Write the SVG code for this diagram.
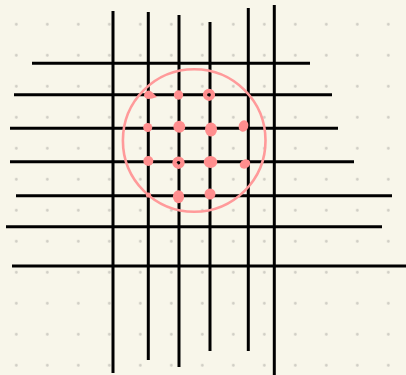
<svg xmlns="http://www.w3.org/2000/svg" width="406" height="375" viewBox="0 0 406 375">
  <defs>
    <pattern id="dots" x="0.8" y="8.8" width="31" height="31" patternUnits="userSpaceOnUse">
      <circle cx="15.5" cy="15.5" r="1.4" fill="#cfcdc4"/>
    </pattern>
  </defs>
  <style>
    .ln { stroke: #000; stroke-width: 3; fill: none; stroke-linecap: butt; }
    .pk { fill: #ff8e8e; }
    .ring { fill: none; stroke: #ff8e8e; }
  </style>
  <rect width="406" height="375" fill="#f8f6ea"/>
  <rect width="406" height="375" fill="url(#dots)"/>
  <g id="horizontal-lines">
    <line class="ln" x1="32" y1="63.3" x2="310" y2="63.3"/>
    <line class="ln" x1="14" y1="94.7" x2="332" y2="94.7"/>
    <line class="ln" x1="10" y1="128.3" x2="338" y2="128.3"/>
    <line class="ln" x1="10" y1="161.7" x2="354" y2="161.7"/>
    <line class="ln" x1="16" y1="195.7" x2="392" y2="195.7"/>
    <line class="ln" x1="6" y1="226.7" x2="382" y2="226.7"/>
    <line class="ln" x1="12" y1="266" x2="406" y2="266"/>
  </g>
  <g id="vertical-lines">
    <line class="ln" x1="113" y1="11" x2="113" y2="373"/>
    <line class="ln" x1="148.3" y1="12" x2="148.3" y2="360"/>
    <line class="ln" x1="179" y1="15" x2="179" y2="367"/>
    <line class="ln" x1="210" y1="22" x2="210" y2="351"/>
    <line class="ln" x1="248.3" y1="8" x2="248.3" y2="351"/>
    <line class="ln" x1="274.3" y1="5" x2="274.3" y2="375"/>
  </g>
  <g id="circle">
    <circle cx="194.2" cy="140.5" r="71.3" fill="none" stroke="#ff9a9a" stroke-width="2.6"/>
  </g>
  <g id="points">
    <path class="pk" d="M145,92 Q149,89 152,92 L157,97 Q152,99 148,99 Q144,98 144,95 Z"/>
    <circle class="pk" cx="178.5" cy="95" r="4.7"/>
    <circle class="ring" cx="209" cy="94.8" r="4" stroke-width="4.2"/>
    <circle class="pk" cx="147.7" cy="127.5" r="4.5"/>
    <circle class="pk" cx="179.3" cy="126.8" r="6"/>
    <ellipse class="pk" cx="211" cy="129.5" rx="6" ry="7"/>
    <ellipse class="pk" cx="243.5" cy="126" rx="4.8" ry="5.8" transform="rotate(20 243.5 126)"/>
    <circle class="pk" cx="148.3" cy="161" r="5"/>
    <circle class="ring" cx="178.5" cy="162.7" r="4" stroke-width="4.4"/>
    <ellipse class="pk" cx="210.5" cy="162" rx="6.8" ry="6"/>
    <ellipse class="pk" cx="245" cy="164" rx="5.5" ry="4.3" transform="rotate(-30 245 164)"/>
    <circle class="pk" cx="148.5" cy="195" r="2.6"/>
    <ellipse class="pk" cx="178.5" cy="196.7" rx="5.6" ry="6.5"/>
    <circle class="pk" cx="210" cy="194" r="5.5"/>
  </g>
</svg>
